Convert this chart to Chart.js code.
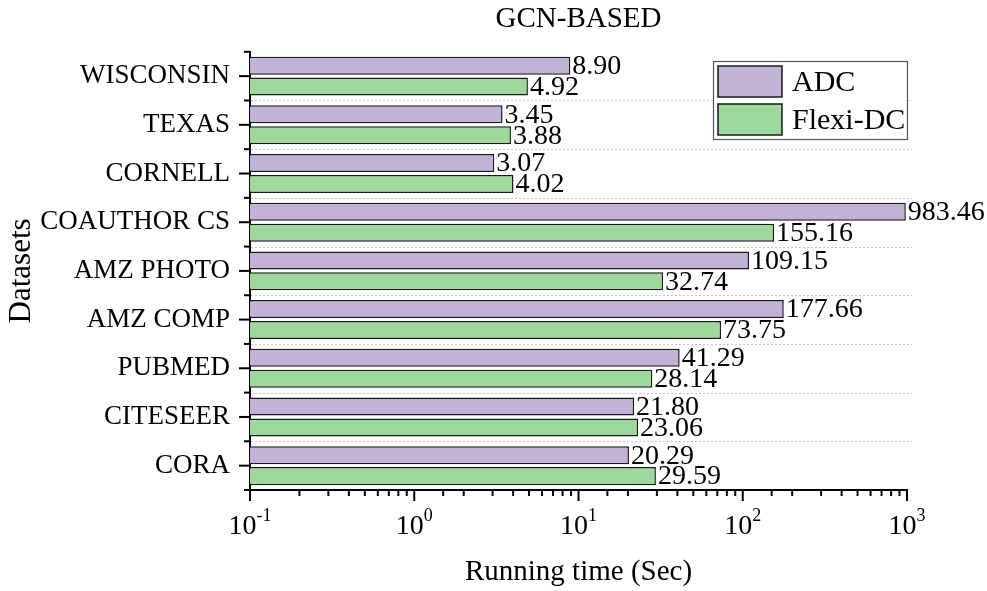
<!DOCTYPE html>
<html>
<head>
<meta charset="utf-8">
<script src="https://cdn.jsdelivr.net/npm/chart.js@4.4.1/dist/chart.umd.min.js"></script>
<style>
  html, body { margin: 0; padding: 0; background: #ffffff; }
  #wrap { width: 987px; height: 591px; position: relative; }
</style>
</head>
<body>
<div id="wrap"><canvas id="c" width="987" height="591"></canvas></div>
<script>
// ---- data ----
const categories = ['WISCONSIN', 'TEXAS', 'CORNELL', 'COAUTHOR CS', 'AMZ PHOTO', 'AMZ COMP', 'PUBMED', 'CITESEER', 'CORA'];
const adcValues = [8.90, 3.45, 3.07, 983.46, 109.15, 177.66, 41.29, 21.80, 20.29];
const flexiValues = [4.92, 3.88, 4.02, 155.16, 32.74, 73.75, 28.14, 23.06, 29.59];
const seriesNames = ['ADC', 'Flexi-DC'];
const xTickValues = [0.1, 1, 10, 100, 1000];
const xTickExponents = ['-1', '0', '1', '2', '3'];
const chartTitle = 'GCN-BASED';
const xTitle = 'Running time (Sec)';
const yTitle = 'Datasets';

// ---- styles ----
const FONT = "'Liberation Serif', 'Times New Roman', serif";
const PURPLE = 'rgb(194,178,215)';
const GREEN = 'rgb(158,216,156)';
const EDGE = '#1a1a1a';

const PLOT_LEFT = 250, PLOT_RIGHT = 907, PLOT_BOTTOM = 490;

const customDraw = {
  id: 'customDraw',
  beforeDatasetsDraw(chart) {
    // dotted separators between categories, extending slightly past the plot
    const ctx = chart.ctx;
    const ys = chart.scales.y;
    const ca = chart.chartArea;
    ctx.save();
    ctx.strokeStyle = '#c4c4c4';
    ctx.lineWidth = 1;
    ctx.setLineDash([2, 2]);
    for (let i = 1; i < categories.length; i++) {
      const py = Math.round(ys.getPixelForValue(i - 0.5)) + 0.5;
      ctx.beginPath();
      ctx.moveTo(ca.left + 1, py);
      ctx.lineTo(ca.right + 5, py);
      ctx.stroke();
    }
    ctx.restore();
  },
  afterDatasetsDraw(chart) {
    const ctx = chart.ctx;
    const xs = chart.scales.x, ys = chart.scales.y;
    ctx.save();
    // data labels
    ctx.font = '28px ' + FONT;
    ctx.fillStyle = '#000';
    ctx.textAlign = 'left';
    ctx.textBaseline = 'middle';
    chart.data.datasets.forEach((ds, di) => {
      const meta = chart.getDatasetMeta(di);
      meta.data.forEach((bar, i) => {
        ctx.fillText(ds.data[i].toFixed(2), bar.x + 2, bar.y + 1);
      });
    });
    // x ticks
    ctx.strokeStyle = '#000';
    ctx.lineCap = 'butt';
    const axisY = xs.top;
    xs.ticks.forEach(t => {
      const v = t.value;
      const lg = Math.log10(v);
      const major = Math.abs(lg - Math.round(lg)) < 1e-9;
      const px = xs.getPixelForValue(v);
      ctx.lineWidth = 2;
      ctx.beginPath();
      ctx.moveTo(px, axisY);
      ctx.lineTo(px, axisY + (major ? 11 : 6));
      ctx.stroke();
    });
    // x tick labels with superscripts
    xTickValues.forEach((v, i) => {
      const px = xs.getPixelForValue(v);
      ctx.font = '28px ' + FONT;
      const wBase = ctx.measureText('10').width;
      ctx.font = '18px ' + FONT;
      const wExp = ctx.measureText(xTickExponents[i]).width;
      const start = px - (wBase + wExp) / 2;
      ctx.textBaseline = 'alphabetic';
      ctx.textAlign = 'left';
      ctx.font = '28px ' + FONT;
      ctx.fillText('10', start, 534);
      ctx.font = '18px ' + FONT;
      ctx.fillText(xTickExponents[i], start + wBase, 521);
    });
    // y ticks: long at centers, short at boundaries
    const axisX = ys.right;
    ctx.lineWidth = 2;
    for (let i = 0; i < categories.length; i++) {
      const py = ys.getPixelForValue(i);
      ctx.beginPath();
      ctx.moveTo(axisX - 11, py);
      ctx.lineTo(axisX, py);
      ctx.stroke();
    }
    for (let i = 0; i <= categories.length; i++) {
      const py = ys.getPixelForValue(i - 0.5);
      ctx.beginPath();
      ctx.moveTo(axisX - 6, py);
      ctx.lineTo(axisX, py);
      ctx.stroke();
    }
    // legend
    const lx = 713, ly = 61, lw = 194, lh = 78;
    ctx.fillStyle = '#fff';
    ctx.fillRect(lx, ly, lw, lh);
    ctx.strokeStyle = '#555';
    ctx.lineWidth = 1.2;
    ctx.strokeRect(lx + 0.5, ly + 0.5, lw, lh);
    chart.data.datasets.forEach((ds, di) => {
      const sy = 66 + di * 38;
      ctx.fillStyle = ds.backgroundColor;
      ctx.fillRect(718, sy, 64, 31);
      ctx.strokeStyle = EDGE;
      ctx.lineWidth = 1.5;
      ctx.strokeRect(718, sy, 64, 31);
      ctx.fillStyle = '#000';
      ctx.font = '30px ' + FONT;
      ctx.textAlign = 'left';
      ctx.textBaseline = 'middle';
      ctx.fillText(ds.label, 792, sy + 17);
    });
    ctx.restore();
  }
};

new Chart(document.getElementById('c'), {
  type: 'bar',
  data: {
    labels: categories,
    datasets: [
      { label: seriesNames[0], data: adcValues, backgroundColor: PURPLE, borderColor: EDGE, borderWidth: 1.5, categoryPercentage: 0.86, barPercentage: 0.86 },
      { label: seriesNames[1], data: flexiValues, backgroundColor: GREEN, borderColor: EDGE, borderWidth: 1.5, categoryPercentage: 0.86, barPercentage: 0.86 }
    ]
  },
  options: {
    indexAxis: 'y',
    responsive: false,
    animation: false,
    layout: { padding: { left: 0, right: 987 - PLOT_RIGHT, top: 0, bottom: 0 } },
    plugins: {
      legend: { display: false },
      tooltip: { enabled: false },
      title: {
        display: true,
        text: chartTitle,
        fullSize: false,
        color: '#000',
        font: { family: FONT, size: 29, weight: 'normal' },
        padding: { top: 2, bottom: 15 }
      }
    },
    scales: {
      x: {
        type: 'logarithmic',
        min: 0.1,
        max: 1000,
        afterFit(scale) { scale.height = 591 - PLOT_BOTTOM; },
        border: { display: true, color: '#000', width: 2 },
        grid: { display: false, drawTicks: false },
        ticks: { autoSkip: false, callback: () => '', padding: 0 },
        title: {
          display: true, text: xTitle, color: '#000',
          font: { family: FONT, size: 29, weight: 'normal' },
          padding: { top: 0, bottom: 1 }
        }
      },
      y: {
        type: 'category',
        offset: true,
        afterFit(scale) { scale.width = PLOT_LEFT; },
        border: { display: true, color: '#000', width: 2 },
        grid: { display: false, drawTicks: false },
        ticks: { color: '#000', padding: 20, font: { family: FONT, size: 27 } },
        title: {
          display: true, text: yTitle, color: '#000',
          font: { family: FONT, size: 31, weight: 'normal' },
          padding: { top: 3, bottom: 0 }
        }
      }
    }
  },
  plugins: [customDraw]
});
</script>
</body>
</html>
